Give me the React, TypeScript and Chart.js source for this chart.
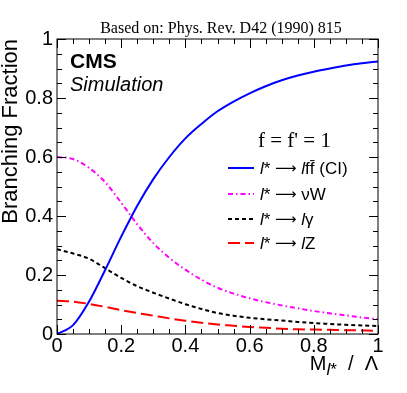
import React, { useEffect, useRef } from 'react';
import { Chart, registerables } from 'chart.js';
Chart.register(...registerables);

// M_l* / Lambda
const massRatio = [0, 0.05, 0.1, 0.15, 0.2, 0.25, 0.3, 0.35, 0.4, 0.45, 0.5, 0.55, 0.6, 0.65, 0.7, 0.75, 0.8, 0.85, 0.9, 0.95, 1.0];
// l* -> l f fbar (CI)
const ciFraction = [0, 0.03, 0.11, 0.217, 0.33, 0.435, 0.525, 0.6, 0.663, 0.712, 0.755, 0.788, 0.816, 0.84, 0.86, 0.876, 0.889, 0.9, 0.91, 0.918, 0.924];
// l* -> nu W
const nuWFraction = [0.6, 0.593, 0.563, 0.515, 0.445, 0.372, 0.308, 0.258, 0.218, 0.184, 0.157, 0.137, 0.121, 0.108, 0.097, 0.087, 0.078, 0.07, 0.063, 0.056, 0.05];
// l* -> l gamma
const gammaFraction = [0.287, 0.273, 0.255, 0.223, 0.19, 0.162, 0.14, 0.12, 0.101, 0.085, 0.071, 0.062, 0.055, 0.05, 0.046, 0.041, 0.037, 0.034, 0.031, 0.029, 0.027];
// l* -> l Z
const zFraction = [0.113, 0.11, 0.102, 0.092, 0.081, 0.071, 0.062, 0.053, 0.045, 0.038, 0.032, 0.028, 0.024, 0.021, 0.018, 0.016, 0.015, 0.014, 0.013, 0.012, 0.011];

const xTickLabels = ['0', '0.2', '0.4', '0.6', '0.8', '1'];
const yTickLabels = ['0', '0.2', '0.4', '0.6', '0.8', '1'];

const SANS = '"Liberation Sans", Arial, Helvetica, sans-serif';
const SERIF = '"Liberation Serif", "Times New Roman", serif';
const DEJAVU = '"DejaVu Sans", sans-serif';

type Seg = { t: string; italic?: boolean; bold?: boolean; size?: number; dy?: number; family?: string };

function isMajor(v: number) {
  return Math.abs(v * 5 - Math.round(v * 5)) < 1e-6;
}

function majorLabel(v: number, labels: string[]) {
  if (!isMajor(v)) return '';
  return labels[Math.round(v * 5)] ?? '';
}

function segWidth(ctx: CanvasRenderingContext2D, segs: Seg[], base: number) {
  let w = 0;
  for (const s of segs) {
    ctx.font = `${s.italic ? 'italic ' : ''}${s.bold ? 'bold ' : ''}${s.size ?? base}px ${s.family ?? SANS}`;
    w += ctx.measureText(s.t).width;
  }
  return w;
}

function drawSegs(ctx: CanvasRenderingContext2D, segs: Seg[], x: number, y: number, base: number) {
  let cx = x;
  ctx.textAlign = 'left';
  ctx.textBaseline = 'alphabetic';
  for (const s of segs) {
    ctx.font = `${s.italic ? 'italic ' : ''}${s.bold ? 'bold ' : ''}${s.size ?? base}px ${s.family ?? SANS}`;
    ctx.fillText(s.t, cx, y + (s.dy ?? 0));
    cx += ctx.measureText(s.t).width;
  }
  return cx;
}

const ARROW: Seg[] = [{ t: ' ' }, { t: '\u27F6', family: DEJAVU, size: 15, dy: -1 }, { t: ' ' }];

const legendRows: { label: Seg[] }[] = [
  { label: [{ t: 'l', italic: true }, { t: '*' }, ...ARROW, { t: 'l', italic: true }, { t: 'f' }, { t: 'f\u0304' }, { t: ' (CI)' }] },
  { label: [{ t: 'l', italic: true }, { t: '*' }, ...ARROW, { t: '\u03BDW' }] },
  { label: [{ t: 'l', italic: true }, { t: '*' }, ...ARROW, { t: 'l', italic: true }, { t: '\u03B3' }] },
  { label: [{ t: 'l', italic: true }, { t: '*' }, ...ARROW, { t: 'l', italic: true }, { t: 'Z' }] },
];

const rootPlugin = {
  id: 'rootStyle',
  afterDraw(chart: any) {
    const { ctx, chartArea: a, scales } = chart;
    const xs = scales.x;
    const ys = scales.y;
    ctx.save();
    ctx.strokeStyle = '#000';
    ctx.lineWidth = 1;
    ctx.setLineDash([]);
    ctx.strokeRect(a.left, a.top, a.right - a.left, a.bottom - a.top);
    ctx.beginPath();
    for (const t of xs.ticks) {
      const px = Math.round(xs.getPixelForValue(t.value)) + 0.5;
      const len = isMajor(t.value) ? 9 : 5;
      ctx.moveTo(px, a.bottom);
      ctx.lineTo(px, a.bottom - len);
      ctx.moveTo(px, a.top);
      ctx.lineTo(px, a.top + len);
    }
    for (const t of ys.ticks) {
      const py = Math.round(ys.getPixelForValue(t.value)) + 0.5;
      const len = isMajor(t.value) ? 9 : 5;
      ctx.moveTo(a.left, py);
      ctx.lineTo(a.left + len, py);
      ctx.moveTo(a.right, py);
      ctx.lineTo(a.right - len, py);
    }
    ctx.stroke();

    ctx.fillStyle = '#000';
    // title
    ctx.font = `16px ${SERIF}`;
    ctx.textAlign = 'center';
    ctx.textBaseline = 'alphabetic';
    ctx.fillText('Based on: Phys. Rev. D42 (1990) 815', 221, 33);

    // CMS label
    ctx.textAlign = 'left';
    ctx.font = `bold 21px ${SANS}`;
    ctx.fillText('CMS', 70, 68);
    ctx.font = `italic 20px ${SANS}`;
    ctx.fillText('Simulation', 70, 91);

    // f = f' = 1
    ctx.font = `21px ${SERIF}`;
    ctx.fillText("f = f' = 1", 258, 147);

    // legend
    const rowY = [168, 194, 219, 243];
    chart.data.datasets.forEach((ds: any, i: number) => {
      const y = rowY[i];
      ctx.save();
      ctx.strokeStyle = ds.borderColor;
      ctx.lineWidth = ds.borderWidth;
      ctx.setLineDash(ds.borderDash || []);
      ctx.beginPath();
      ctx.moveTo(228, y);
      ctx.lineTo(254, y);
      ctx.stroke();
      ctx.restore();
      ctx.fillStyle = '#000';
      drawSegs(ctx, legendRows[i].label, 260, y + 6, 17);
    });

    // x axis title
    const xt: Seg[] = [
      { t: 'M' },
      { t: 'l', italic: true, size: 17, dy: 5 },
      { t: '*', size: 17, dy: 5 },
      { t: '  /  \u039B' },
    ];
    const w = segWidth(ctx, xt, 20);
    drawSegs(ctx, xt, a.right - w, 370, 20);

    // y axis title
    ctx.save();
    ctx.translate(17, a.top);
    ctx.rotate(-Math.PI / 2);
    ctx.font = `22px ${SANS}`;
    ctx.textAlign = 'right';
    ctx.textBaseline = 'alphabetic';
    ctx.fillText('Branching Fraction', 0, 0);
    ctx.restore();

    ctx.restore();
  },
};

function pts(vals: number[]) {
  return massRatio.map((x, i) => ({ x, y: vals[i] }));
}

export default function App() {
  const ref = useRef<HTMLCanvasElement>(null);
  useEffect(() => {
    const canvas = ref.current;
    if (!canvas) return;
    const common = { pointRadius: 0, fill: false, cubicInterpolationMode: 'monotone' as const, borderWidth: 2 };
    const chart = new Chart(canvas, {
      type: 'line',
      data: {
        datasets: [
          { ...common, label: 'CI', data: pts(ciFraction), borderColor: '#0000ff', borderDash: [] },
          { ...common, label: 'nuW', data: pts(nuWFraction), borderColor: '#ff00ff', borderDash: [5, 3, 1.5, 3] },
          { ...common, label: 'lgamma', data: pts(gammaFraction), borderColor: '#000000', borderDash: [4, 3] },
          { ...common, label: 'lZ', data: pts(zFraction), borderColor: '#ff0000', borderDash: [12, 5] },
        ],
      },
      options: {
        responsive: false,
        animation: false,
        devicePixelRatio: 1,
        layout: { padding: { top: 39, right: 29, left: 0, bottom: 0 } },
        plugins: { legend: { display: false }, tooltip: { enabled: false }, title: { display: false } },
        scales: {
          x: {
            type: 'linear',
            min: 0,
            max: 1,
            grid: { display: false, drawTicks: false },
            border: { display: false },
            ticks: {
              stepSize: 0.05,
              maxTicksLimit: 100,
              autoSkip: false,
              maxRotation: 0,
              minRotation: 0,
              padding: 0,
              color: '#000',
              font: { family: SANS, size: 20 },
              callback: (v: any) => majorLabel(Number(v), xTickLabels),
            },
            afterFit: (s: any) => {
              s.height = 59;
            },
          },
          y: {
            type: 'linear',
            min: 0,
            max: 1,
            grid: { display: false, drawTicks: false },
            border: { display: false },
            ticks: {
              stepSize: 0.05,
              maxTicksLimit: 100,
              autoSkip: false,
              padding: 4,
              color: '#000',
              font: { family: SANS, size: 20 },
              callback: (v: any) => majorLabel(Number(v), yTickLabels),
            },
            afterFit: (s: any) => {
              s.width = 57;
            },
          },
        },
      },
      plugins: [rootPlugin],
    });
    return () => chart.destroy();
  }, []);
  return (
    <div style={{ position: 'absolute', left: 0, top: 0, width: 407, height: 393, background: '#fff' }}>
      <canvas ref={ref} width={407} height={393} style={{ display: 'block', width: 407, height: 393 }} />
    </div>
  );
}
